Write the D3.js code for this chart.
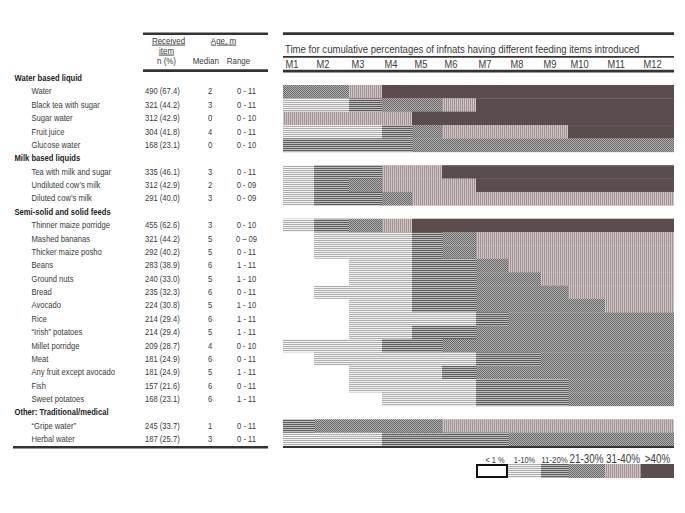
<!DOCTYPE html>
<html><head><meta charset="utf-8">
<script src="https://cdn.jsdelivr.net/npm/d3@7"></script>
<style>
body{margin:0;background:#fff;}
svg text{font-family:"Liberation Sans",Arial,sans-serif;fill:#3a3a3a;}
</style></head><body>
<svg id="chart" width="685" height="513"></svg>
<script>
const groups = ["Water based liquid","Milk based liquids","Semi-solid and solid feeds","Other: Traditional/medical"];
const items = ["Water","Black tea with sugar","Sugar water","Fruit juice","Glucose water",
 "Tea with milk and sugar","Undiluted cow\u2019s milk","Diluted cow\u2019s milk",
 "Thinner maize porridge","Mashed bananas","Thicker maize posho","Beans","Ground nuts","Bread","Avocado","Rice","\u201cIrish\u201d potatoes","Millet porridge","Meat","Any fruit except avocado","Fish","Sweet potatoes",
 "\u201cGripe water\u201d","Herbal water"];
const itemGroup = [0,0,0,0,0,1,1,1,2,2,2,2,2,2,2,2,2,2,2,2,2,2,3,3];
const received = ["490 (67.4)","321 (44.2)","312 (42.9)","304 (41.8)","168 (23.1)","335 (46.1)","312 (42.9)","291 (40.0)","455 (62.6)","321 (44.2)","292 (40.2)","283 (38.9)","240 (33.0)","235 (32.3)","224 (30.8)","214 (29.4)","214 (29.4)","209 (28.7)","181 (24.9)","181 (24.9)","157 (21.6)","168 (23.1)","245 (33.7)","187 (25.7)"];
const medians = [2,3,0,4,0,3,2,3,3,5,5,6,5,6,5,6,5,4,6,5,6,6,1,3];
const ranges = ["0 - 11","0 - 11","0 - 10","0 - 11","0 - 10","0 - 11","0 - 09","0 - 09","0 - 10","0 \u2013 09","0 - 11","1 - 11","1 - 10","0 - 11","1 - 10","1 - 11","1 - 11","0 - 10","0 - 11","1 - 11","0 - 11","1 - 11","0 - 11","0 - 11"];
const months = ["M1","M2","M3","M4","M5","M6","M7","M8","M9","M10","M11","M12"];
const levelLabels = ["< 1 %","1-10%","11-20%","21-30%","31-40%",">40%"];
// level index per item per month (0: <1%, 1: 1-10%, 2: 11-20%, 3: 21-30%, 4: 31-40%, 5: >40%)
const levels = [
 [3,3,4,5,5,5,5,5,5,5,5,5],
 [1,1,2,3,3,4,5,5,5,5,5,5],
 [4,4,4,4,5,5,5,5,5,5,5,5],
 [1,1,1,2,3,4,4,4,4,5,5,5],
 [2,2,2,2,3,3,3,3,3,3,3,3],
 [1,2,2,4,4,5,5,5,5,5,5,5],
 [1,2,3,4,4,4,5,5,5,5,5,5],
 [1,2,2,3,4,4,4,4,4,4,4,4],
 [1,2,3,4,5,5,5,5,5,5,5,5],
 [0,1,1,1,2,3,4,4,4,4,4,4],
 [0,1,1,1,2,3,4,4,4,4,4,4],
 [0,0,1,1,2,2,3,4,4,4,4,4],
 [0,0,1,1,2,2,3,3,4,4,4,4],
 [0,1,1,1,2,2,3,3,3,4,4,4],
 [0,0,1,1,2,2,3,3,3,3,4,4],
 [0,0,1,1,1,1,2,3,3,3,3,3],
 [0,0,1,1,2,2,3,3,3,3,3,3],
 [1,1,1,2,2,3,3,3,3,3,3,3],
 [0,1,1,1,1,1,2,2,3,3,3,3],
 [0,0,1,1,1,2,3,3,3,3,3,3],
 [0,0,1,1,1,1,2,2,2,3,3,3],
 [0,0,0,1,1,1,2,2,2,3,3,3],
 [2,3,3,3,3,4,4,4,4,4,4,4],
 [1,1,1,2,2,2,2,3,3,3,3,3]
];

const svg = d3.select("#chart");
const defs = svg.append("defs");

function pat(id, w, h, bg, parts){
  const p = defs.append("pattern").attr("id", id).attr("patternUnits","userSpaceOnUse")
    .attr("width", w).attr("height", h);
  p.append("rect").attr("width", w).attr("height", h).attr("fill", bg);
  parts.forEach(q => p.append("rect").attr("x", q[0]).attr("y", q[1]).attr("width", q[2]).attr("height", q[3]).attr("fill", q[4]));
}
pat("lv1", 4, 2, "#f2f2f2", [[0,0,4,1,"#aeaeae"]]);
pat("lv2", 4, 2, "#bdbdbd", [[0,0,4,1,"#5c5c5c"]]);
pat("lv3", 2, 2, "#b0b0b0", [[0,0,1,1,"#686868"],[1,1,1,1,"#686868"]]);
pat("lv4", 2, 4, "#cdc3c3", [[0,0,1,4,"#a39595"]]);
const fills = ["#ffffff","url(#lv1)","url(#lv2)","url(#lv3)","url(#lv4)","#5b4d4e"];

// narrow text helper: horizontal compression to mimic a condensed face
function place(sel, fx, fy, sx){
  return sel.attr("transform", (d,i)=>`translate(${fx(d,i)},${fy(d,i)}) scale(${sx},1)`);
}

const rows = [];
groups.forEach((g, gi) => {
  rows.push({type:"group", label:g});
  items.forEach((it, i) => { if (itemGroup[i] === gi) rows.push({type:"item", i}); });
});
const y = d3.scaleBand().domain(d3.range(rows.length)).range([71.6, 446]).padding(0);
const x = d3.scaleLinear().domain(d3.range(13)).range([283,314,349,382,412,442,476,508,541,568,605,641,674]);

// left table
const tbl = svg.append("g");
tbl.append("line").attr("x1",143).attr("x2",268).attr("y1",33.8).attr("y2",33.8).attr("stroke","#333").attr("stroke-width",2.6);
tbl.append("line").attr("x1",143).attr("x2",268).attr("y1",70.6).attr("y2",70.6).attr("stroke","#333").attr("stroke-width",2.6);
tbl.append("line").attr("x1",13).attr("x2",268).attr("y1",447.3).attr("y2",447.3).attr("stroke","#333").attr("stroke-width",2.6);
const hdr = [["Received",168.5,43.5,true],["item",166.5,53.5,true],["n (%)",166.5,64,false],["Age, m",223.5,43.5,true],["Median",205.8,64,false],["Range",238.5,64,false]];
place(tbl.selectAll("text.hdr").data(hdr).join("text").attr("class","hdr"), d=>d[1], d=>d[2], 0.84)
  .attr("text-anchor","middle")
  .style("font-size","9.5px").style("text-decoration", d=>d[3]?"underline":"none").text(d=>d[0]);

const rg = tbl.selectAll("g.row").data(rows).join("g").attr("class","row")
  .attr("transform",(d,i)=>`translate(0,${y(i)+y.bandwidth()/2+2.8})`);
place(rg.filter(d=>d.type==="group").append("text"), ()=>14.5, ()=>0, 0.82)
  .style("font-size","9.3px").style("font-weight","bold").style("fill","#222").text(d=>d.label);
const ir = rg.filter(d=>d.type==="item");
place(ir.append("text"), ()=>31.5, ()=>0, 0.82).style("font-size","9.3px").text(d=>items[d.i]);
place(ir.append("text"), ()=>145, ()=>0, 0.82).style("font-size","9.3px").text(d=>received[d.i]);
place(ir.append("text"), ()=>210, ()=>0, 0.82).attr("text-anchor","middle").style("font-size","9.3px").text(d=>medians[d.i]);
place(ir.append("text"), ()=>246.5, ()=>0, 0.82).attr("text-anchor","middle").style("font-size","9.3px").text(d=>ranges[d.i]);

// right chart header
const ch = svg.append("g");
ch.append("line").attr("x1",283).attr("x2",674).attr("y1",33.6).attr("y2",33.6).attr("stroke","#333").attr("stroke-width",2.6);
place(ch.append("text"), ()=>285, ()=>53.2, 0.87).style("font-size","11px")
  .text("Time for cumulative percentages of infnats having different feeding items introduced");
ch.append("line").attr("x1",283).attr("x2",674).attr("y1",56.9).attr("y2",56.9).attr("stroke","#333").attr("stroke-width",1.8);
place(ch.selectAll("text.m").data(months).join("text").attr("class","m"), (d,i)=>x(i)+2.5, ()=>68.4, 0.86)
  .style("font-size","10.8px").text(d=>d);
ch.append("line").attr("x1",283).attr("x2",674).attr("y1",71.1).attr("y2",71.1).attr("stroke","#333").attr("stroke-width",2.6);

// cells
const cells = [];
rows.forEach((r, ri) => {
  if (r.type !== "item") return;
  levels[r.i].forEach((lv, m) => cells.push({ri, m, lv}));
});
ch.selectAll("rect.cell").data(cells).join("rect").attr("class","cell")
  .attr("x", d=>x(d.m)).attr("width", d=>x(d.m+1)-x(d.m))
  .attr("y", d=>y(d.ri)).attr("height", y.bandwidth()+0.3)
  .attr("fill", d=>fills[d.lv]);
ch.append("line").attr("x1",283).attr("x2",674).attr("y1",447).attr("y2",447).attr("stroke","#333").attr("stroke-width",2);

// legend
const lg = svg.append("g");
const lgSizes = [9,9,9.6,12,12,12];
lg.selectAll("rect.lg").data(levelLabels).join("rect").attr("class","lg")
  .attr("x",(d,i)=>x(6+i)).attr("width",(d,i)=>x(7+i)-x(6+i))
  .attr("y",464).attr("height",14)
  .attr("fill",(d,i)=>fills[i]);
lg.append("rect").attr("x",x(6)+1).attr("y",465).attr("width",x(7)-x(6)-2).attr("height",12)
  .attr("fill","none").attr("stroke","#111").attr("stroke-width",2);
place(lg.selectAll("text.lg").data(levelLabels).join("text").attr("class","lg"),
  (d,i)=>(x(6+i)+x(7+i))/2 + (i===0?3:0), ()=>462.5, 0.82)
  .attr("text-anchor","middle")
  .style("font-size",(d,i)=>lgSizes[i]+"px").text(d=>d);
</script>
</body></html>
